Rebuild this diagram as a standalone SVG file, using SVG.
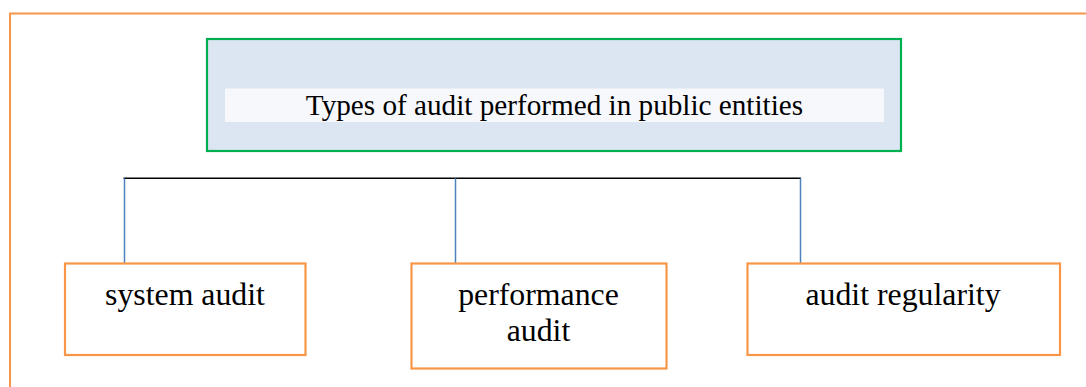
<svg xmlns="http://www.w3.org/2000/svg" width="1086" height="387" viewBox="0 0 1086 387">
<style>
.frame{fill:none;stroke:#F79646;stroke-width:2}
.box{fill:#FFFFFF;stroke:#F79646;stroke-width:2.2}
.title{fill:#DCE6F2;stroke:#00B050;stroke-width:2.2}
.band{fill:#F6F8FB}
.t{font-family:"Liberation Serif","Times New Roman",serif;fill:#000;text-anchor:middle}
.bus{stroke:#000;stroke-width:1.6;fill:none}
.drop{stroke:#4F81BD;stroke-width:1.5;fill:none}
</style>
<rect id="frame" class="frame" x="10" y="13.5" width="1100" height="400"/>
<g id="root">
<rect class="title" x="207" y="39" width="694" height="112"/>
<rect class="band" x="225" y="88.5" width="659" height="33.5"/>
<text class="t" x="554.5" y="115" font-size="29.2">Types of audit performed in public entities</text>
</g>
<g id="connectors">
<line class="bus" x1="123.5" y1="178.3" x2="801" y2="178.3"/>
<line class="drop" x1="124.5" y1="178.3" x2="124.5" y2="268"/>
<line class="drop" x1="455.5" y1="178.3" x2="455.5" y2="268"/>
<line class="drop" x1="800.5" y1="178.3" x2="800.5" y2="268"/>
</g>
<g id="system-audit">
<rect class="box" x="65" y="263.5" width="240.5" height="91.5"/>
<text class="t" x="185" y="305" font-size="31.8">system audit</text>
</g>
<g id="performance-audit">
<rect class="box" x="411.5" y="263.5" width="255" height="105"/>
<text class="t" x="538.5" y="305" font-size="31.8">performance</text>
<text class="t" x="538.5" y="341" font-size="31.8">audit</text>
</g>
<g id="audit-regularity">
<rect class="box" x="747.5" y="263.5" width="312.5" height="91.5"/>
<text class="t" x="903" y="305" font-size="31.8">audit regularity</text>
</g>
</svg>
